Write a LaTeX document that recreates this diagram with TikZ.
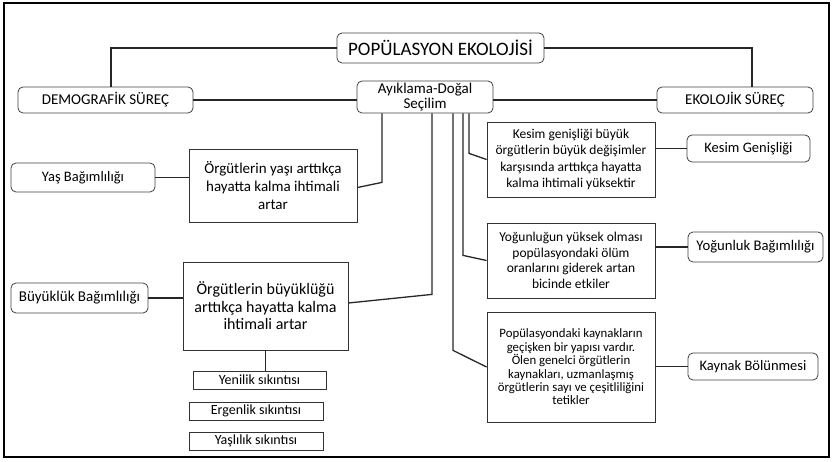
\documentclass[tikz,border=0pt]{standalone}
\usepackage{fontspec}
\setmainfont{Carlito}
\usetikzlibrary{positioning}

\begin{document}
\begin{tikzpicture}[
  x=1pt, y=-1pt,
  rbox/.style={
    rectangle,
    draw=black!75,
    rounded corners=5pt,
    align=center,
    inner sep=0pt,
    line width=0.8pt
  },
  sbox/.style={
    rectangle,
    draw=black!80,
    align=center,
    inner sep=0pt,
    line width=0.8pt
  },
  link/.style={line width=1.3pt, draw=black!85},
  every node/.append style={font=\fontsize{12}{17}\selectfont}
]
\useasboundingbox (0,0) rectangle (833,462);
\draw[line width=2pt] (4,3) rectangle (829,457);

% Top row
\node[rbox, minimum width=207pt, minimum height=30pt, font=\fontsize{19}{21}\selectfont] (title) at (440.5,48) {POPÜLASYON EKOLOJİSİ};
\node[rbox, minimum width=175pt, minimum height=26pt, font=\fontsize{15}{16}\selectfont] (demog) at (105.5,100) {DEMOGRAFİK SÜREÇ};
\node[rbox, minimum width=136pt, minimum height=32pt, font=\fontsize{15}{15}\selectfont] (ayik) at (425,97) {Ayıklama-Doğal\\Seçilim};
\node[rbox, minimum width=156pt, minimum height=26pt, font=\fontsize{15}{16}\selectfont] (ekol) at (735,100) {EKOLOJİK SÜREÇ};

% Left side
\node[rbox, minimum width=144pt, minimum height=29pt, font=\fontsize{14.5}{16}\selectfont] (yaslbl) at (83,177.5) {Yaş Bağımlılığı};
\node[sbox, minimum width=168pt, minimum height=73pt, font=\fontsize{15}{18}\selectfont] (yasbox) at (273,185.5) {Örgütlerin yaşı arttıkça\\hayatta kalma ihtimali\\artar};
\node[rbox, minimum width=137pt, minimum height=30pt, font=\fontsize{15}{16}\selectfont] (buylbl) at (79.5,298) {Büyüklük Bağımlılığı};
\node[sbox, minimum width=165pt, minimum height=88pt, font=\fontsize{16}{17.5}\selectfont] (buybox) at (265.5,306) {Örgütlerin büyüklüğü\\arttıkça hayatta kalma\\ihtimali artar};

% Bottom list
\node[sbox, minimum width=133pt, minimum height=18pt, font=\fontsize{14}{14}\selectfont] (yenilik) at (259.5,380) {Yenilik sıkıntısı};
\node[sbox, minimum width=134pt, minimum height=18pt, font=\fontsize{14}{14}\selectfont] (ergenlik) at (256,411) {Ergenlik sıkıntısı};
\node[sbox, minimum width=134pt, minimum height=18pt, font=\fontsize{14}{14}\selectfont] (yaslilik) at (256,441) {Yaşlılık sıkıntısı};

% Right side
\node[sbox, minimum width=168pt, minimum height=75pt, font=\fontsize{13.5}{16.2}\selectfont] (kesbox) at (571,159.5) {Kesim genişliği büyük\\örgütlerin büyük değişimler\\karşısında arttıkça hayatta\\kalma ihtimali yüksektir};
\node[rbox, minimum width=123pt, minimum height=27pt, font=\fontsize{14.5}{16}\selectfont] (keslbl) at (748.5,148.5) {Kesim Genişliği};
\node[sbox, minimum width=168pt, minimum height=75pt, font=\fontsize{13.5}{15.5}\selectfont] (yogbox) at (571,260.5) {Yoğunluğun yüksek olması\\popülasyondaki ölüm\\oranlarını giderek artan\\bicinde etkiler};
\node[rbox, minimum width=135pt, minimum height=30pt, font=\fontsize{14.7}{16}\selectfont] (yoglbl) at (755.5,247) {Yoğunluk Bağımlılığı};
\node[sbox, minimum width=168pt, minimum height=110pt, font=\fontsize{12.8}{13.4}\selectfont] (kaybox) at (571,367) {Popülasyondaki kaynakların\\geçişken bir yapısı vardır.\\Ölen genelci örgütlerin\\kaynakları, uzmanlaşmış\\örgütlerin sayı ve çeşitliliğini\\tetikler};
\node[rbox, minimum width=130pt, minimum height=27pt, font=\fontsize{14.5}{16}\selectfont] (kaylbl) at (753,366.5) {Kaynak Bölünmesi};

% Connectors
\draw[link] (title.west) -| ([xshift=5.5pt]demog.north);
\draw[link] (title.east) -| ([xshift=17pt]ekol.north);
\draw[link] (demog.east) -- (demog.east -| ayik.west);
\draw[link] (ekol.west -| ayik.east) -- (ekol.west);
\draw[link] ([xshift=-43pt]ayik.south) -- ++(0,69) -- ([yshift=-2pt]yasbox.east);
\draw[link] ([xshift=7pt]ayik.south) -- ++(0,181) -- ([yshift=3pt]buybox.east);
\draw[link] ([xshift=44pt]ayik.south) -- ++(0,40) -- (kesbox.west);
\draw[link] ([xshift=38pt]ayik.south) -- ++(0,142) -- (yogbox.west);
\draw[link] ([xshift=28pt]ayik.south) -- ++(0,237) -- (kaybox.west);
\draw[link] (keslbl.west -| kesbox.east) -- (keslbl.west);
\draw[link] (yoglbl.west -| yogbox.east) -- (yoglbl.west);
\draw[link] (kaylbl.west -| kaybox.east) -- (kaylbl.west);
\draw[link] (yaslbl.east) -- (yaslbl.east -| yasbox.west);
\draw[link] (buylbl.east) -- (buylbl.east -| buybox.west);
\draw[link] (buybox.south) -- (buybox.south |- yenilik.north);

\end{tikzpicture}
\end{document}
